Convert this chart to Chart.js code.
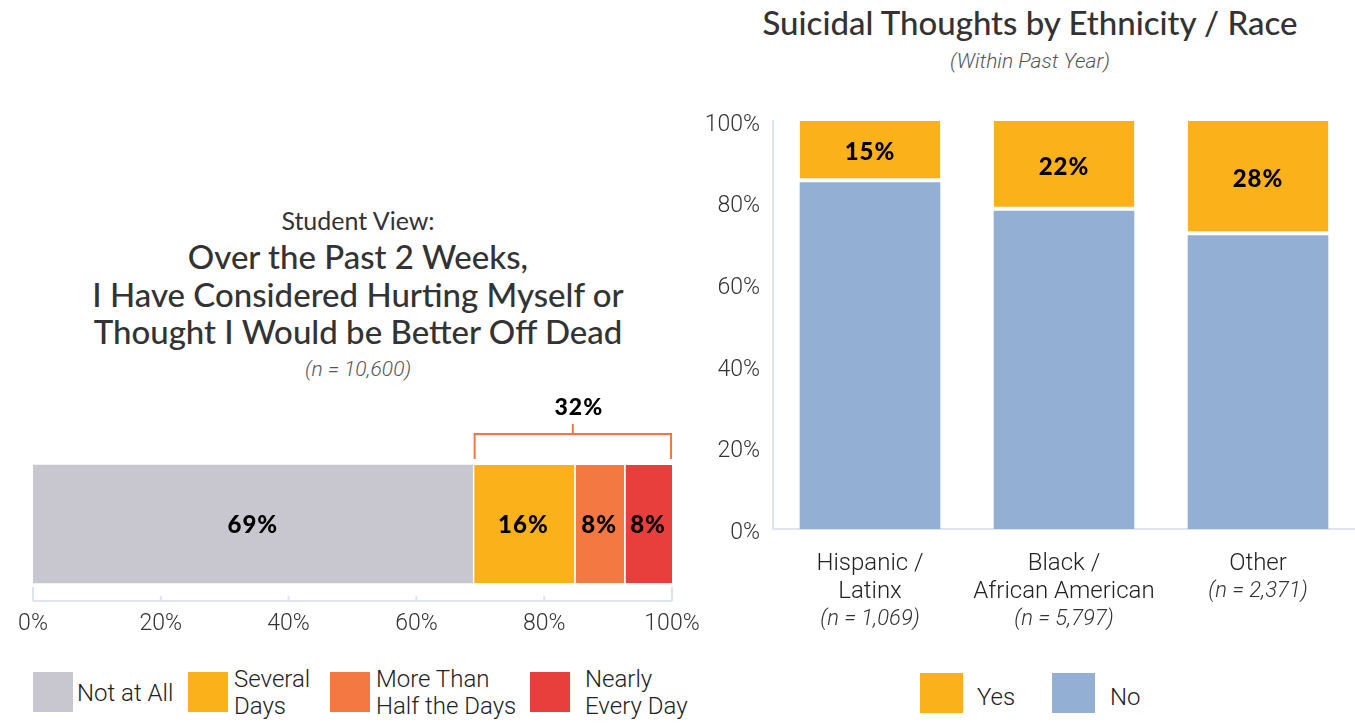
<!DOCTYPE html>
<html>
<head>
<meta charset="utf-8">
<script src="https://cdn.jsdelivr.net/npm/chart.js@4.4.1/dist/chart.umd.min.js"></script>
<style>
  html, body { margin: 0; padding: 0; background: #fff; }
  body { width: 1355px; height: 724px; position: relative; overflow: hidden; font-family: 'Roboto', sans-serif; color: #2b2b2b; }
  .abs { position: absolute; }
  .title { font-family: 'Lato', sans-serif; font-weight: 500; color: #333; text-align: center; white-space: nowrap; }
  .note { font-family: 'Roboto', sans-serif; font-weight: 300; font-style: italic; color: #555; text-align: center; white-space: nowrap; }
  .legend-box { position: absolute; }
  .legend-text { position: absolute; font-family: 'Roboto', sans-serif; font-weight: 300; font-size: 24px; line-height: 27px; color: #222; white-space: nowrap; }
</style>
</head>
<body>
  <!-- left chart -->
  <div class="abs title" style="left:0; width:716px; top:205px; font-size:25px; font-weight:400;">Student View:</div>
  <div class="abs title" style="left:0; width:716px; top:238px; font-size:33px; line-height:37.5px;">
    Over the Past 2 Weeks,<br>I Have Considered Hurting Myself or<br>Thought I Would be Better Off Dead
  </div>
  <div class="abs note" style="left:0; width:716px; top:357px; font-size:21px;">(n = 10,600)</div>
  <div class="abs" style="left:0; top:390px; width:710px; height:250px;"><canvas id="leftChart"></canvas></div>
  <div id="leftLegend"></div>

  <!-- right chart -->
  <div class="abs title" style="left:700px; width:660px; top:2px; font-size:33px;">Suicidal Thoughts by Ethnicity / Race</div>
  <div class="abs note" style="left:700px; width:660px; top:49px; font-size:21px;">(Within Past Year)</div>
  <div class="abs" style="left:690px; top:100px; width:665px; height:540px;"><canvas id="rightChart"></canvas></div>
  <div id="rightLegend"></div>

<script>
// left chart: frequency of self-harm thoughts
const frequencyLabels = [['Not at All'], ['Several', 'Days'], ['More Than', 'Half the Days'], ['Nearly', 'Every Day']];
const frequencyValues = [68.8, 15.9, 7.8, 7.5];
const frequencyColors = ['#c8c7d0', '#fbb119', '#f47841', '#e83e3c'];
const percentTicks = [0, 20, 40, 60, 80, 100];

// right chart: suicidal thoughts by ethnicity
const ethnicityNames = [['Hispanic /', 'Latinx'], ['Black /', 'African American'], ['Other']];
const ethnicityCounts = ['(n = 1,069)', '(n = 5,797)', '(n = 2,371)'];
const yesValues = [15, 22, 28];
const noValues = [85, 78, 72];
const seriesNames = ['Yes', 'No'];
const seriesColors = ['#fbb119', '#94afd4'];

const AXIS_COLOR = '#dde3ef';
const TICK_FONT = { family: 'Roboto', size: 23, weight: '300' };

// draws bold % labels in the middle of each bar segment
const valueLabels = {
  id: 'valueLabels',
  afterDatasetsDraw(chart, args, opts) {
    const ctx = chart.ctx;
    ctx.save();
    ctx.font = '900 24px Lato';
    ctx.letterSpacing = '1px';
    ctx.fillStyle = '#000';
    ctx.textAlign = 'center';
    ctx.textBaseline = 'middle';
    chart.data.datasets.forEach((ds, di) => {
      if (opts.skip && opts.skip.includes(di)) return;
      chart.getDatasetMeta(di).data.forEach((bar, i) => {
        const p = bar.getCenterPoint();
        ctx.fillText(Math.round(ds.data[i]) + '%', p.x, p.y + 1);
      });
    });
    ctx.restore();
  },
};

// baseline with upward ticks + bracket over the non-zero answers
const leftDecor = {
  id: 'leftDecor',
  afterDraw(chart) {
    const ctx = chart.ctx;
    const x = chart.scales.x;
    const bottom = chart.chartArea.bottom;
    ctx.save();
    ctx.strokeStyle = AXIS_COLOR;
    ctx.lineWidth = 2;
    ctx.beginPath();
    ctx.moveTo(x.getPixelForValue(0), bottom);
    ctx.lineTo(x.getPixelForValue(100), bottom);
    percentTicks.forEach((t, i) => {
      const px = x.getPixelForValue(t);
      const len = i == 0 || i == percentTicks.length - 1 ? 14 : 5;
      ctx.moveTo(px, bottom);
      ctx.lineTo(px, bottom - len);
    });
    ctx.stroke();

    const start = x.getPixelForValue(frequencyValues[0]) + 2;
    const end = x.getPixelForValue(100) - 1;
    const mid = (start + end) / 2;
    const yLine = 44;
    ctx.strokeStyle = '#f47841';
    ctx.lineWidth = 2;
    ctx.beginPath();
    ctx.moveTo(start, yLine + 25);
    ctx.lineTo(start, yLine);
    ctx.lineTo(end, yLine);
    ctx.lineTo(end, yLine + 25);
    ctx.moveTo(mid, yLine);
    ctx.lineTo(mid, yLine - 10);
    ctx.stroke();

    const total = frequencyValues.slice(1).reduce((s, v) => s + Math.round(v), 0);
    ctx.font = '900 23px Lato';
    ctx.letterSpacing = '1px';
    ctx.fillStyle = '#000';
    ctx.textAlign = 'center';
    ctx.textBaseline = 'middle';
    ctx.fillText(total + '%', mid + 6, 18);
    ctx.restore();
  },
};

// multi-line category labels with italic sample size
const rightLabels = {
  id: 'rightLabels',
  afterDraw(chart) {
    const ctx = chart.ctx;
    const x = chart.scales.x;
    const bottom = chart.chartArea.bottom;
    ctx.save();
    ctx.textAlign = 'center';
    ctx.textBaseline = 'middle';
    ethnicityNames.forEach((lines, i) => {
      const px = x.getPixelForValue(i);
      ctx.font = '300 24px Roboto';
      ctx.fillStyle = '#222';
      lines.forEach((line, li) => ctx.fillText(line, px, bottom + 35 + li * 28));
      ctx.font = 'italic 300 22px Roboto';
      ctx.fillStyle = '#333';
      ctx.fillText(ethnicityCounts[i], px, bottom + 35 + lines.length * 28 - 1);
    });
    ctx.restore();
  },
};

function createLegend(id, items, colors, boxes, texts) {
  const holder = document.getElementById(id);
  items.forEach((lines, i) => {
    const box = document.createElement('div');
    box.className = 'legend-box';
    box.style.left = boxes[i][0] + 'px';
    box.style.top = boxes[i][1] + 'px';
    box.style.width = boxes[i][2] + 'px';
    box.style.height = boxes[i][3] + 'px';
    box.style.background = colors[i];
    const text = document.createElement('div');
    text.className = 'legend-text';
    text.style.left = texts[i][0] + 'px';
    text.style.top = texts[i][1] - (lines.length * 27) / 2 + 'px';
    text.innerHTML = lines.join('<br>');
    holder.append(box, text);
  });
}

new Chart(document.getElementById('leftChart'), {
  type: 'bar',
  data: {
    labels: [''],
    datasets: frequencyValues.map((v, i) => ({
      label: frequencyLabels[i].join(' '),
      data: [v],
      backgroundColor: frequencyColors[i],
      borderColor: '#fff',
      borderWidth: i == 0 ? 0 : { left: 2 },
      borderSkipped: false,
      barThickness: 118,
    })),
  },
  options: {
    indexAxis: 'y',
    responsive: true,
    maintainAspectRatio: false,
    animation: false,
    layout: { padding: { left: 33, right: 38, top: 57, bottom: 0 } },
    scales: {
      x: {
        stacked: true,
        min: 0,
        max: 100,
        afterBuildTicks: (s) => { s.ticks = percentTicks.map((v) => ({ value: v })); },
        afterFit: (s) => { s.height = 39; s.paddingLeft = 0; s.paddingRight = 0; },
        grid: { display: false, drawTicks: false },
        border: { display: false },
        ticks: { padding: 9, color: '#333', font: TICK_FONT, callback: (v) => v + '%' },
      },
      y: { stacked: true, display: false },
    },
    plugins: { legend: { display: false }, tooltip: { enabled: false }, valueLabels: {} },
  },
  plugins: [valueLabels, leftDecor],
});

new Chart(document.getElementById('rightChart'), {
  type: 'bar',
  data: {
    labels: ethnicityNames.map((n) => n.join(' ')),
    datasets: [
      {
        label: seriesNames[1],
        data: noValues,
        backgroundColor: seriesColors[1],
        borderWidth: 0,
        categoryPercentage: 1,
        barPercentage: 0.725,
      },
      {
        label: seriesNames[0],
        data: yesValues,
        backgroundColor: seriesColors[0],
        borderColor: '#fff',
        borderWidth: { bottom: 4 },
        borderSkipped: false,
        categoryPercentage: 1,
        barPercentage: 0.725,
      },
    ],
  },
  options: {
    responsive: true,
    maintainAspectRatio: false,
    animation: false,
    layout: { padding: { left: 0, right: 0, top: 21, bottom: 0 } },
    scales: {
      x: {
        stacked: true,
        afterFit: (s) => { s.height = 111; },
        grid: { display: false, drawTicks: false },
        border: { display: true, color: AXIS_COLOR, width: 2 },
        ticks: { display: false },
      },
      y: {
        stacked: true,
        min: 0,
        max: 100,
        afterBuildTicks: (s) => { s.ticks = percentTicks.map((v) => ({ value: v })); },
        afterFit: (s) => { s.width = 83; s.paddingTop = 0; s.paddingBottom = 0; },
        grid: { display: false, drawTicks: false },
        border: { display: true, color: AXIS_COLOR, width: 2 },
        ticks: { padding: 13, labelOffset: 4, color: '#333', font: TICK_FONT, callback: (v) => v + '%' },
      },
    },
    plugins: { legend: { display: false }, tooltip: { enabled: false }, valueLabels: { skip: [0] } },
  },
  plugins: [valueLabels, rightLabels],
});

createLegend('leftLegend', frequencyLabels, frequencyColors,
  [[33, 672, 40, 40], [188, 672, 40, 40], [330, 672, 40, 40], [530, 672, 40, 40]],
  [[77, 693], [234, 693], [376, 693], [585, 693]]);
createLegend('rightLegend', seriesNames.map((n) => [n]), seriesColors,
  [[920, 673, 43, 40], [1052, 673, 43, 40]],
  [[977, 697], [1110, 697]]);
</script>
</body>
</html>
